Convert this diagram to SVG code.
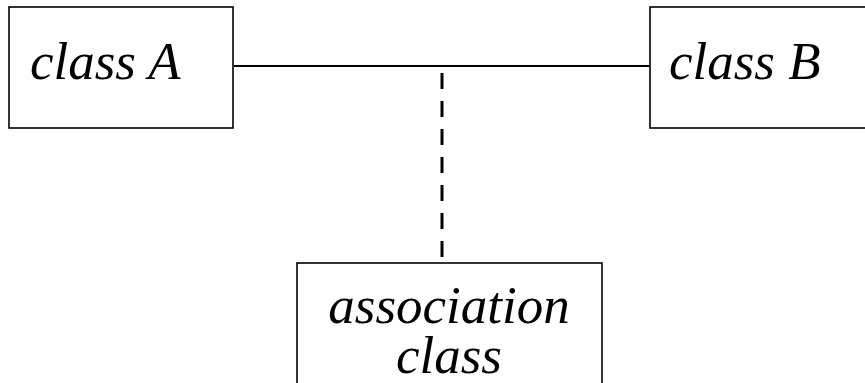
<svg xmlns="http://www.w3.org/2000/svg" width="865" height="383" viewBox="0 0 865 383">
<style>
.box{fill:#fff;stroke:#000;stroke-width:1.6}
.t{font-family:"Liberation Serif","Times New Roman",serif;font-style:italic;font-size:53px;fill:#000}
.assoc{stroke:#000;stroke-width:2;fill:none}
.dash{stroke:#000;stroke-width:3;stroke-dasharray:16 12;fill:none}
</style>
<rect width="865" height="383" fill="#fff"/>
<g id="connectors">
<line class="assoc" x1="234" y1="66" x2="650" y2="66"/>
<line class="dash" x1="442" y1="73" x2="442" y2="262"/>
</g>
<g id="classA">
<rect class="box" x="9" y="7" width="224" height="121"/>
<text class="t" x="30" y="79">class A</text>
</g>
<g id="classB">
<rect class="box" x="650" y="7" width="230" height="121"/>
<text class="t" x="669" y="79">class B</text>
</g>
<g id="associationClass">
<rect class="box" x="297" y="263" width="305" height="140"/>
<text class="t" x="449" y="323" text-anchor="middle">association</text>
<text class="t" x="449" y="373" text-anchor="middle">class</text>
</g>
</svg>
